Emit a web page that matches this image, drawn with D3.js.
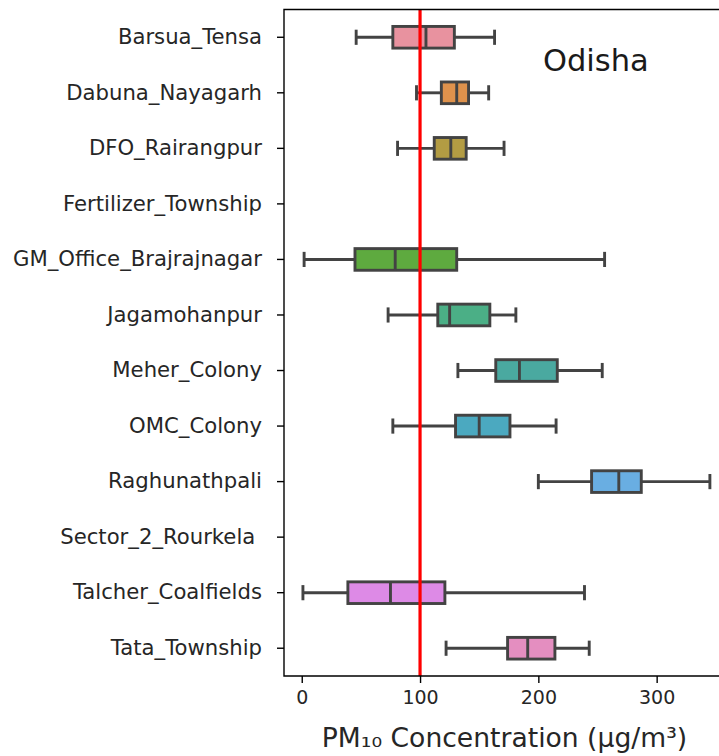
<!DOCTYPE html>
<html>
<head>
<meta charset="utf-8">
<script src="https://cdn.jsdelivr.net/npm/d3@7"></script>
<style>
  html, body { margin: 0; padding: 0; background: #ffffff; }
  svg { display: block; font-family: "DejaVu Sans", sans-serif; }
</style>
</head>
<body>
<svg id="chart" width="719" height="756"></svg>
<script>
// Monitoring stations (Odisha) and their PM10 box statistics, µg/m³
const sites = [
  "Barsua_Tensa", "Dabuna_Nayagarh", "DFO_Rairangpur", "Fertilizer_Township",
  "GM_Office_Brajrajnagar", "Jagamohanpur", "Meher_Colony", "OMC_Colony",
  "Raghunathpali", "Sector_2_Rourkela ", "Talcher_Coalfields", "Tata_Township"
];
const whiskerLow  = [46,  97,  81, null,   2,  73, 132,  77, 200, null,   1, 122];
const q1          = [77, 118, 112, null,  45, 115, 164, 130, 245, null,  39, 174];
const median      = [105, 131, 126, null, 79, 125, 184, 150, 268, null,  75, 191];
const q3          = [129, 141, 139, null, 131, 159, 216, 176, 287, null, 121, 214];
const whiskerHigh = [163, 158, 171, null, 256, 181, 254, 215, 345, null, 239, 243];
const boxColors = [
  "#e8929f", "#df924c", "#b39c43", "#9aa83c", "#5eaa3f", "#4baf86",
  "#4aa9a0", "#4ba9c0", "#69aee2", "#a79ae6", "#dd8ae6", "#e48ec0"
];
const xTicks = [0, 100, 200, 300];
const limitValue = 100;
const stateName = "Odisha";

const svg = d3.select("#chart");
const plot = { left: 284, top: 9.5, right: 730, bottom: 676 };

const x = d3.scaleLinear().domain([-15, 362]).range([plot.left, plot.right]);
const y = d3.scaleBand().domain(sites).range([plot.top, plot.bottom]).padding(0);

const ink = "#434343";
const lw = 2.9;
const boxH = y.bandwidth() * 0.39;
const capH = boxH * 0.7;

const data = sites.map((s, i) => ({
  site: s, lo: whiskerLow[i], q1: q1[i], med: median[i], q3: q3[i], hi: whiskerHigh[i], color: boxColors[i]
})).filter(d => d.med !== null);

const g = svg.append("g");

const box = g.selectAll("g.box").data(data).join("g").attr("class", "box")
  .attr("transform", d => `translate(0,${y(d.site) + y.bandwidth() / 2})`);

// whiskers
box.append("line").attr("x1", d => x(d.lo)).attr("x2", d => x(d.q1))
  .attr("stroke", ink).attr("stroke-width", lw);
box.append("line").attr("x1", d => x(d.q3)).attr("x2", d => x(d.hi))
  .attr("stroke", ink).attr("stroke-width", lw);
// caps
box.append("line").attr("x1", d => x(d.lo)).attr("x2", d => x(d.lo))
  .attr("y1", -capH / 2).attr("y2", capH / 2).attr("stroke", ink).attr("stroke-width", lw);
box.append("line").attr("x1", d => x(d.hi)).attr("x2", d => x(d.hi))
  .attr("y1", -capH / 2).attr("y2", capH / 2).attr("stroke", ink).attr("stroke-width", lw);
// boxes
box.append("rect")
  .attr("x", d => x(d.q1)).attr("width", d => x(d.q3) - x(d.q1))
  .attr("y", -boxH / 2).attr("height", boxH)
  .attr("fill", d => d.color).attr("stroke", ink).attr("stroke-width", lw);
// medians
box.append("line").attr("x1", d => x(d.med)).attr("x2", d => x(d.med))
  .attr("y1", -boxH / 2).attr("y2", boxH / 2).attr("stroke", ink).attr("stroke-width", lw);

// reference limit line
svg.append("line")
  .attr("x1", x(limitValue)).attr("x2", x(limitValue))
  .attr("y1", plot.top).attr("y2", plot.bottom)
  .attr("stroke", "#ff0000").attr("stroke-width", 3.2);

// spines
svg.append("path")
  .attr("d", `M${plot.right},${plot.top}H${plot.left}V${plot.bottom}H${plot.right}`)
  .attr("fill", "none").attr("stroke", "#000").attr("stroke-width", 1.4);

// x axis
const xAxis = svg.append("g").attr("transform", `translate(0,${plot.bottom})`)
  .call(d3.axisBottom(x).tickValues(xTicks).tickSize(7).tickPadding(8));
xAxis.select(".domain").remove();
xAxis.selectAll(".tick line").attr("stroke", "#000").attr("stroke-width", 1.4);
xAxis.selectAll(".tick text").attr("fill", "#262626")
  .style("font-family", "DejaVu Sans").style("font-size", "19px");

// y axis
const yAxis = svg.append("g").attr("transform", `translate(${plot.left},0)`)
  .call(d3.axisLeft(y).tickSize(7).tickPadding(15));
yAxis.select(".domain").remove();
yAxis.selectAll(".tick line").attr("stroke", "#000").attr("stroke-width", 1.4);
yAxis.selectAll(".tick text").attr("fill", "#262626")
  .style("font-family", "DejaVu Sans").style("font-size", "21.2px")
  .style("white-space", "pre");

// axis title
svg.append("text")
  .attr("x", (322 + 687) / 2).attr("y", 747)
  .attr("text-anchor", "middle").attr("fill", "#262626")
  .style("font-size", "26.6px")
  .text("PM₁₀ Concentration (µg/m³)");

// state label
svg.append("text")
  .attr("x", 543).attr("y", 71)
  .attr("fill", "#1a1a1a")
  .style("font-size", "30.5px")
  .text(stateName);
</script>
</body>
</html>
